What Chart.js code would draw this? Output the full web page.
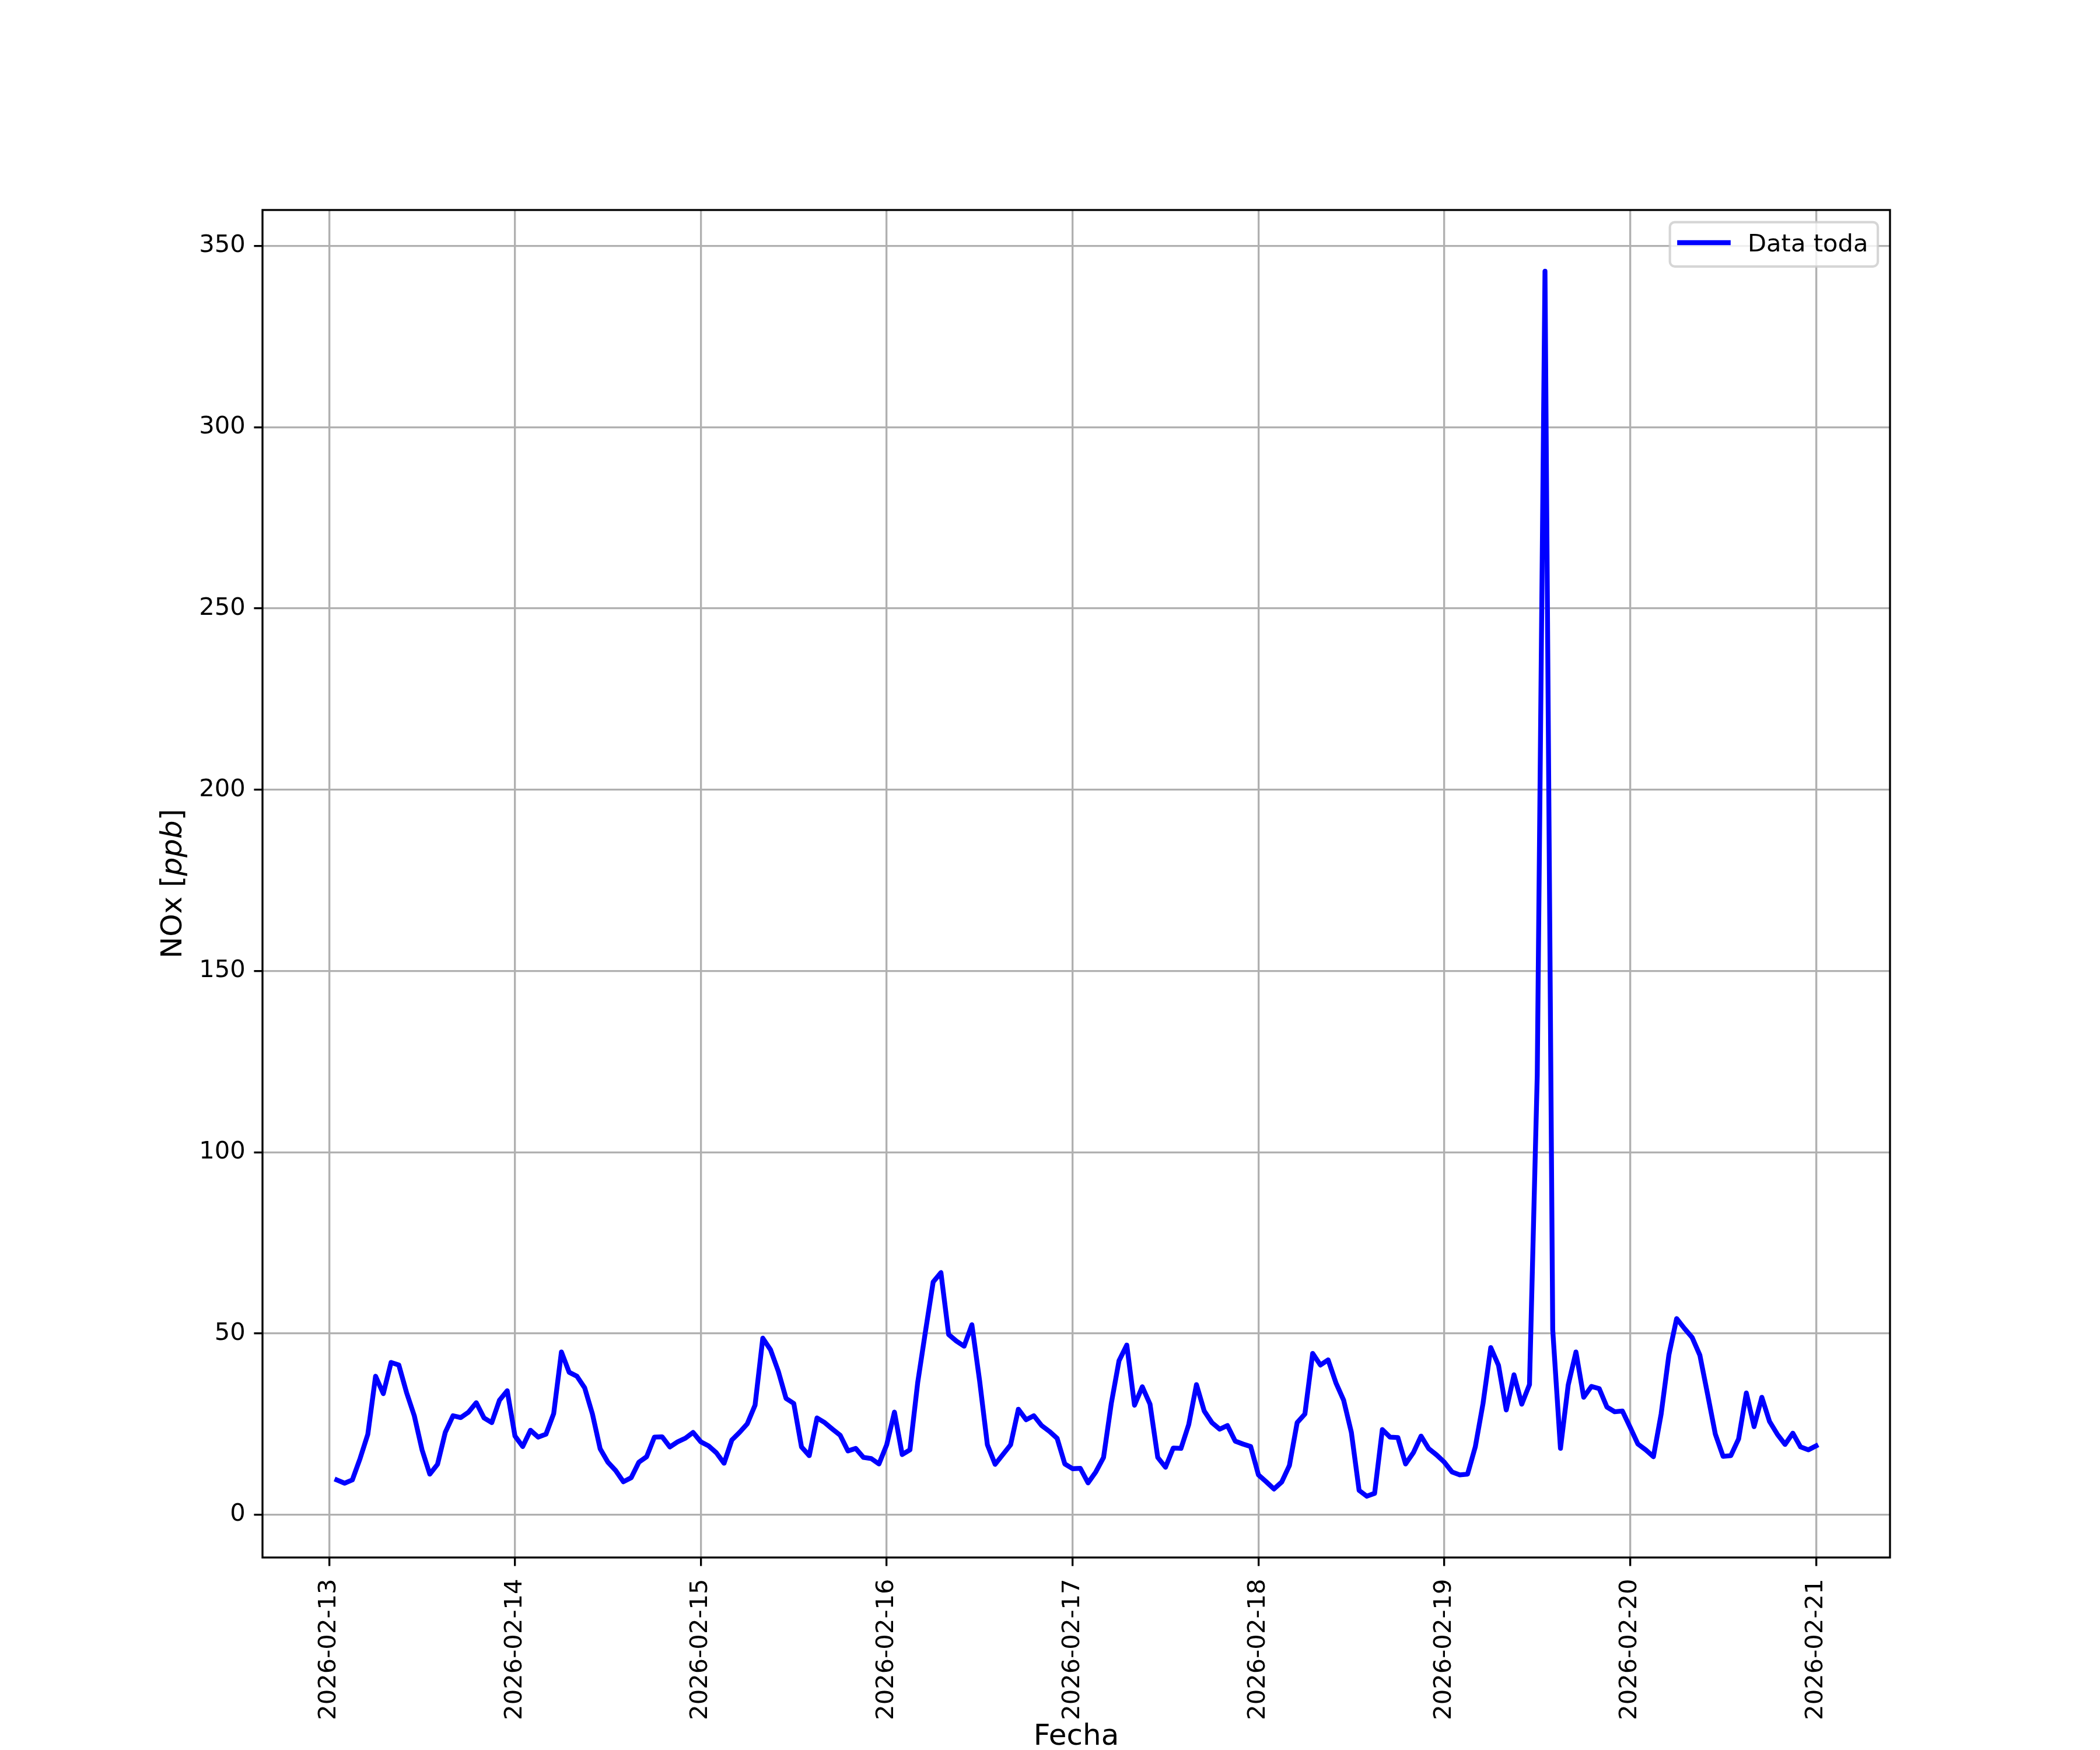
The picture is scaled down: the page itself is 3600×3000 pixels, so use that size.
<!DOCTYPE html>
<html>
<head>
<meta charset="utf-8">
<script src="https://cdn.jsdelivr.net/npm/chart.js@4.4.1/dist/chart.umd.min.js"></script>
<style>
html,body{margin:0;padding:0;background:#ffffff;}
canvas{display:block;}
</style>
</head>
<body>
<canvas id="c" width="3600" height="3000"></canvas>
<script>
// ---- data (hourly NOx, first value = 2026-02-13 01:00) ----
const seriesLabel = 'Data toda';
const xTickHours = [0, 24, 48, 72, 96, 120, 144, 168, 192];
const xTickLabels = ['2026-02-13', '2026-02-14', '2026-02-15', '2026-02-16', '2026-02-17',
                     '2026-02-18', '2026-02-19', '2026-02-20', '2026-02-21'];
const yTicks = [0, 50, 100, 150, 200, 250, 300, 350];

const noxDay13 = [9.6, 8.7, 9.6, 15.5, 22.2, 38.2, 33.4, 42.0, 41.3, 33.7, 27.3, 17.9,
                  11.2, 13.9, 22.7, 27.3, 26.8, 28.3, 30.9, 26.7, 25.4, 31.6, 34.2, 21.7];
const noxDay14 = [18.8, 23.3, 21.4, 22.2, 27.9, 44.9, 39.3, 38.2, 35.0, 27.8, 18.2, 14.5,
                  12.2, 9.1, 10.2, 14.5, 16.0, 21.4, 21.5, 18.7, 20.1, 21.1, 22.7, 20.1];
const noxDay15 = [19.0, 17.1, 14.2, 20.6, 22.7, 25.1, 30.2, 48.7, 45.5, 39.6, 32.1, 30.7,
                  18.7, 16.3, 26.7, 25.4, 23.6, 21.9, 17.6, 18.3, 15.8, 15.5, 14.0, 19.3];
const noxDay16 = [28.3, 16.6, 17.9, 36.4, 50.5, 64.2, 66.8, 49.7, 47.9, 46.5, 52.4, 36.9,
                  19.3, 13.9, 16.6, 19.3, 29.1, 26.2, 27.3, 24.6, 23.0, 21.1, 14.0, 12.7];
const noxDay17 = [12.8, 8.8, 11.8, 15.8, 30.7, 42.5, 46.8, 30.2, 35.3, 30.5, 15.8, 13.1,
                  18.4, 18.3, 24.9, 35.9, 28.6, 25.4, 23.6, 24.6, 20.3, 19.5, 18.8, 11.0];
const noxDay18 = [9.1, 7.1, 9.0, 13.6, 25.4, 27.8, 44.5, 41.3, 42.7, 36.4, 31.6, 22.7,
                  6.7, 5.1, 5.9, 23.5, 21.4, 21.3, 14.0, 17.1, 21.7, 18.2, 16.5, 14.5];
const noxDay19 = [11.8, 11.0, 11.2, 18.7, 30.7, 46.1, 41.2, 28.9, 38.6, 30.5, 35.9, 121,
                  343, 51, 18.3, 35.8, 44.9, 32.4, 35.4, 34.8, 29.7, 28.4, 28.6, 24.1];
const noxDay20 = [19.5, 17.9, 16.0, 27.8, 44.1, 54.1, 51.4, 48.9, 44.0, 33.2, 22.2, 16.1,
                  16.3, 20.9, 33.6, 24.3, 32.4, 25.7, 22.2, 19.4, 22.5, 18.7, 17.9, 19.0];

const nox = [].concat(noxDay13, noxDay14, noxDay15, noxDay16, noxDay17, noxDay18, noxDay19, noxDay20);
// hours since 2026-02-13 00:00 (hourly samples starting 01:00)
const hours = nox.map((_, i) => i + 1);

// ---- styling helpers ----
const PT = 300 / 72;
const FONT = 'DejaVu Sans';

const framePlugin = {
  id: 'frame',
  afterDraw(chart) {
    const ctx = chart.ctx, a = chart.chartArea;
    ctx.save();
    ctx.strokeStyle = '#000000';
    ctx.lineWidth = 0.8 * PT;
    ctx.strokeRect(a.left, a.top, a.right - a.left, a.bottom - a.top);
    ctx.restore();
  }
};

const yTitlePlugin = {
  id: 'yTitle',
  afterDraw(chart) {
    const ctx = chart.ctx, a = chart.chartArea;
    const fs = 12 * PT;
    const parts = [['NOx [', ''], ['ppb', 'italic '], [']', '']];
    ctx.save();
    ctx.fillStyle = '#000000';
    ctx.textBaseline = 'alphabetic';
    ctx.textAlign = 'left';
    let total = 0;
    const widths = parts.map(p => { ctx.font = p[1] + fs + 'px "' + FONT + '"'; const w = ctx.measureText(p[0]).width; total += w; return w; });
    ctx.translate(294, (a.top + a.bottom) / 2);
    ctx.rotate(-Math.PI / 2);
    let x = -total / 2;
    parts.forEach((p, i) => {
      ctx.font = p[1] + fs + 'px "' + FONT + '"';
      ctx.fillText(p[0], x, 17);
      x += widths[i];
    });
    ctx.restore();
  }
};

const legendPlugin = {
  id: 'mplLegend',
  afterDraw(chart) {
    const ctx = chart.ctx, a = chart.chartArea;
    const ds = chart.data.datasets[0];
    const fs = 10 * PT;
    ctx.save();
    ctx.font = fs + 'px "' + FONT + '"';
    const tw = ctx.measureText(ds.label).width;
    const pad = 0.4 * fs, hl = 2 * fs, htp = 0.8 * fs;
    const w = pad + hl + htp + tw + pad;
    const h = 76;
    const right = a.right - 0.5 * fs, top = a.top + 0.5 * fs;
    const left = right - w;
    const r = 0.2 * fs;
    ctx.beginPath();
    ctx.moveTo(left + r, top);
    ctx.lineTo(right - r, top);
    ctx.arcTo(right, top, right, top + r, r);
    ctx.lineTo(right, top + h - r);
    ctx.arcTo(right, top + h, right - r, top + h, r);
    ctx.lineTo(left + r, top + h);
    ctx.arcTo(left, top + h, left, top + h - r, r);
    ctx.lineTo(left, top + r);
    ctx.arcTo(left, top, left + r, top, r);
    ctx.closePath();
    ctx.fillStyle = 'rgba(255,255,255,0.8)';
    ctx.fill();
    ctx.strokeStyle = 'rgba(204,204,204,0.8)';
    ctx.lineWidth = 1.0 * PT;
    ctx.stroke();
    ctx.beginPath();
    ctx.strokeStyle = ds.borderColor;
    ctx.lineWidth = ds.borderWidth;
    ctx.lineCap = 'square';
    ctx.moveTo(left + pad, top + 35.2);
    ctx.lineTo(left + pad + hl, top + 35.2);
    ctx.stroke();
    ctx.fillStyle = '#000000';
    ctx.textBaseline = 'alphabetic';
    ctx.textAlign = 'left';
    ctx.fillText(ds.label, left + pad + hl + htp, top + 50.5);
    ctx.restore();
  }
};

const gridOpts = {
  color: '#b0b0b0',
  lineWidth: 0.8 * PT,
  drawTicks: true,
  tickLength: 3.5 * PT,
  tickColor: '#000000',
  tickWidth: 0.8 * PT
};
const tickFont = { family: FONT, size: 10 * PT };

new Chart(document.getElementById('c').getContext('2d'), {
  type: 'line',
  data: {
    datasets: [{
      label: seriesLabel,
      data: hours.map((h, i) => ({ x: h, y: nox[i] })),
      borderColor: '#0000ff',
      backgroundColor: '#0000ff',
      borderWidth: 2 * PT,
      pointRadius: 0,
      pointHoverRadius: 0,
      tension: 0,
      fill: false,
      borderJoinStyle: 'round',
      borderCapStyle: 'square'
    }]
  },
  options: {
    responsive: false,
    animation: false,
    devicePixelRatio: 1,
    parsing: true,
    layout: { padding: { top: 360, right: 360, bottom: 0, left: 0 } },
    plugins: { legend: { display: false }, tooltip: { enabled: false }, title: { display: false } },
    scales: {
      x: {
        type: 'linear',
        position: 'bottom',
        min: -8.6,
        max: 201.55,
        afterFit(s) { s.height = 330; },
        afterBuildTicks(s) { s.ticks = xTickHours.map(v => ({ value: v })); },
        ticks: {
          autoSkip: false,
          minRotation: 90,
          maxRotation: 90,
          padding: 22,
          color: '#000000',
          font: tickFont,
          callback: (v) => { const i = xTickHours.indexOf(v); return i >= 0 ? xTickLabels[i] : ''; }
        },
        grid: gridOpts,
        border: { display: false },
        title: {
          display: true,
          text: 'Fecha',
          color: '#000000',
          font: { family: FONT, size: 12 * PT, lineHeight: 0.88 },
          padding: 0
        }
      },
      y: {
        type: 'linear',
        min: -11.8,
        max: 359.9,
        afterFit(s) { s.width = 450; },
        afterBuildTicks(s) { s.ticks = yTicks.map(v => ({ value: v })); },
        ticks: {
          padding: 3.5 * PT,
          color: '#000000',
          font: tickFont,
          callback: (v) => String(v)
        },
        grid: gridOpts,
        border: { display: false }
      }
    }
  },
  plugins: [framePlugin, yTitlePlugin, legendPlugin]
});
</script>
</body>
</html>
